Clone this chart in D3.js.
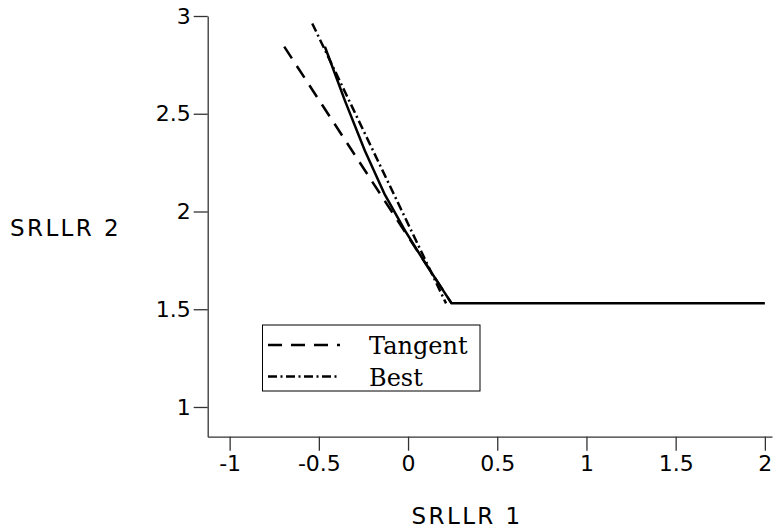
<!DOCTYPE html>
<html>
<head>
<meta charset="utf-8">
<script src="https://cdn.jsdelivr.net/npm/d3@7"></script>
<style>
	body { margin: 0; background: #fff; }
	svg { display: block; }
	.axis text { font-family: 'DejaVu Sans', sans-serif; font-size: 22px; fill: #000; }
	.axis path, .axis line { stroke: #333; stroke-width: 1.3px; }
	.title { font-family: 'DejaVu Sans', sans-serif; font-size: 23px; letter-spacing: 2.4px; }
	.legend text { font-family: 'DejaVu Serif', serif; font-size: 24px; }
</style>
</head>
<body>
<svg id="chart" width="773" height="530"></svg>
<script>

// SRLLR 1 / SRLLR 2 values
var solidX = [ -0.466, -0.354, -0.242, -0.130, -0.017, 0.095, 0.244, 2.0 ];
var solidY = [ 2.843, 2.567, 2.311, 2.086, 1.902, 1.738, 1.530, 1.530 ];

var tangentX = [ -0.694, 0.244 ];
var tangentY = [ 2.843, 1.530 ];

var bestX = [ -0.537, 0.213 ];
var bestY = [ 2.962, 1.530 ];

var xTicks = [ -1, -0.5, 0, 0.5, 1, 1.5, 2 ];
var yTicks = [ 1, 1.5, 2, 2.5, 3 ];

var legendNames = [ 'Tangent', 'Best' ];

var svg = d3.select( '#chart' );

var x = d3.scaleLinear().domain( [ -1.123, 2.04 ] ).range( [ 207.7, 772 ] );
var y = d3.scaleLinear().domain( [ 0.848, 3 ] ).range( [ 436.7, 16 ] );

var xAxis = d3.axisBottom( x )
	.tickValues( xTicks )
	.tickSize( 14 )
	.tickSizeOuter( 0 )
	.tickPadding( 5 )
	.tickFormat( function ( d ) { return String( d ); } );

var yAxis = d3.axisLeft( y )
	.tickValues( yTicks )
	.tickSize( 14 )
	.tickSizeOuter( 0 )
	.tickPadding( 3 )
	.tickFormat( function ( d ) { return String( d ); } );

svg.append( 'g' )
	.attr( 'class', 'axis' )
	.attr( 'transform', 'translate(0,' + y.range()[0] + ')' )
	.call( xAxis );

svg.append( 'g' )
	.attr( 'class', 'axis' )
	.attr( 'transform', 'translate(' + x.range()[0] + ',0)' )
	.call( yAxis );

svg.selectAll( '.axis' ).attr( 'font-family', null ).attr( 'font-size', null );

var line = d3.line()
	.x( function ( d ) { return x( d[0] ); } )
	.y( function ( d ) { return y( d[1] ); } );

var series = [
	{ xs: tangentX, ys: tangentY, dash: '14,9' },
	{ xs: bestX, ys: bestY, dash: '9,3.5,2,3.5' },
	{ xs: solidX, ys: solidY, dash: null }
];

series.forEach( function ( s ) {
	var pts = s.xs.map( function ( v, i ) { return [ v, s.ys[i] ]; } );
	svg.append( 'path' )
		.datum( pts )
		.attr( 'd', line )
		.attr( 'fill', 'none' )
		.attr( 'stroke', '#000' )
		.attr( 'stroke-width', 2.5 )
		.attr( 'stroke-linejoin', 'round' )
		.attr( 'stroke-dasharray', s.dash );
} );

// axis titles
svg.append( 'text' )
	.attr( 'class', 'title' )
	.attr( 'x', 10 )
	.attr( 'y', 236 )
	.text( 'SRLLR 2' );

svg.append( 'text' )
	.attr( 'class', 'title' )
	.attr( 'x', 467 )
	.attr( 'y', 524 )
	.attr( 'text-anchor', 'middle' )
	.text( 'SRLLR 1' );

// legend
var legend = svg.append( 'g' ).attr( 'class', 'legend' );

legend.append( 'rect' )
	.attr( 'x', 262.5 )
	.attr( 'y', 325 )
	.attr( 'width', 217.5 )
	.attr( 'height', 66 )
	.attr( 'fill', '#fff' )
	.attr( 'stroke', '#000' )
	.attr( 'stroke-width', 1 );

legendNames.forEach( function ( name, i ) {
	var ly = 345 + i * 31.5;
	legend.append( 'line' )
		.attr( 'x1', 268 )
		.attr( 'x2', 340 )
		.attr( 'y1', ly )
		.attr( 'y2', ly )
		.attr( 'stroke', '#000' )
		.attr( 'stroke-width', 2.5 )
		.attr( 'stroke-dasharray', series[i].dash );
	legend.append( 'text' )
		.attr( 'x', 369 )
		.attr( 'y', ly + 9 )
		.text( name );
} );

</script>
</body>
</html>
